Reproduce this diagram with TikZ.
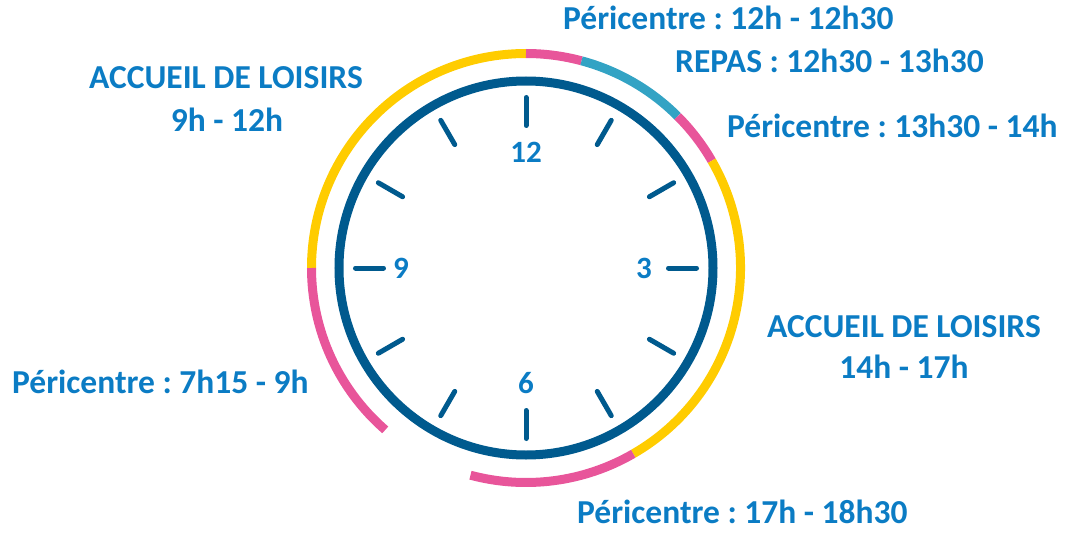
\documentclass[tikz,border=0pt]{standalone}
\usepackage{fontspec}
\setmainfont{Carlito}
\usetikzlibrary{positioning}

\definecolor{clockblue}{HTML}{005A8E}
\definecolor{txtblue}{HTML}{0B7CC4}
\definecolor{accyellow}{HTML}{FFCC00}
\definecolor{perpink}{HTML}{E8559A}
\definecolor{repteal}{HTML}{33A3C4}

\tikzset{
  lbl/.style={inner sep=0pt, text=txtblue, font=\fontsize{33.5}{40}\selectfont\bfseries},
  num/.style={inner sep=0pt, text=txtblue, font=\fontsize{31}{36}\selectfont\bfseries},
  band/.style={line width=9pt, line cap=butt}
}

\begin{document}
\frenchspacing
\begin{tikzpicture}[x=1pt,y=1pt]
        \useasboundingbox (-526,-265) rectangle (541,268);

        %cadran
        \draw[clockblue, line width=9pt] (0,0) circle (187);
        \foreach \a in {0,30,...,330}
          \draw[clockblue, line width=5pt, line cap=round] (\a:142.5) -- (\a:170.5);

        \node[num] (n12) at (0,116) {12};
        \node[num] (n3) at (118,0) {3};
        \node[num] (n9) at (-125,0) {9};
        \node[num] (n6) at (0,-115) {6};

        %plages horaires
        \draw[band, accyellow] (90:214.5) arc[start angle=90, end angle=180, radius=214.5];
        \draw[band, perpink] (75:214.5) arc[start angle=75, end angle=90, radius=214.5];
        \draw[band, repteal] (45:214.5) arc[start angle=45, end angle=75, radius=214.5];
        \draw[band, perpink] (30:214.5) arc[start angle=30, end angle=45, radius=214.5];
        \draw[band, accyellow] (-60:214.5) arc[start angle=-60, end angle=30, radius=214.5];
        \draw[band, perpink] (-105:214.5) arc[start angle=-105, end angle=-60, radius=214.5];
        \draw[band, perpink] (180:214.5) arc[start angle=180, end angle=229, radius=214.5];

        %legendes
        \node[lbl, anchor=base west] (p1) at (37,238) {Péricentre : 12h - 12h30};
        \node[lbl, anchor=base west] (rep) at (149,195) {REPAS : 12h30 - 13h30};
        \node[lbl, anchor=base west] (p2) at (201,131) {Péricentre : 13h30 - 14h};
        \node[lbl, anchor=base] (acc1) at (-300,179) {ACCUEIL DE LOISIRS};
        \node[lbl, anchor=base] (acc1h) at (-299,136) {9h - 12h};
        \node[lbl, anchor=base] (acc2) at (378,-69) {ACCUEIL DE LOISIRS};
        \node[lbl, anchor=base] (acc2h) at (378,-110) {14h - 17h};
        \node[lbl, anchor=base west] (p3) at (-514,-125) {Péricentre : 7h15 - 9h};
        \node[lbl, anchor=base west] (p4) at (51,-255) {Péricentre : 17h - 18h30};
\end{tikzpicture}
\end{document}
